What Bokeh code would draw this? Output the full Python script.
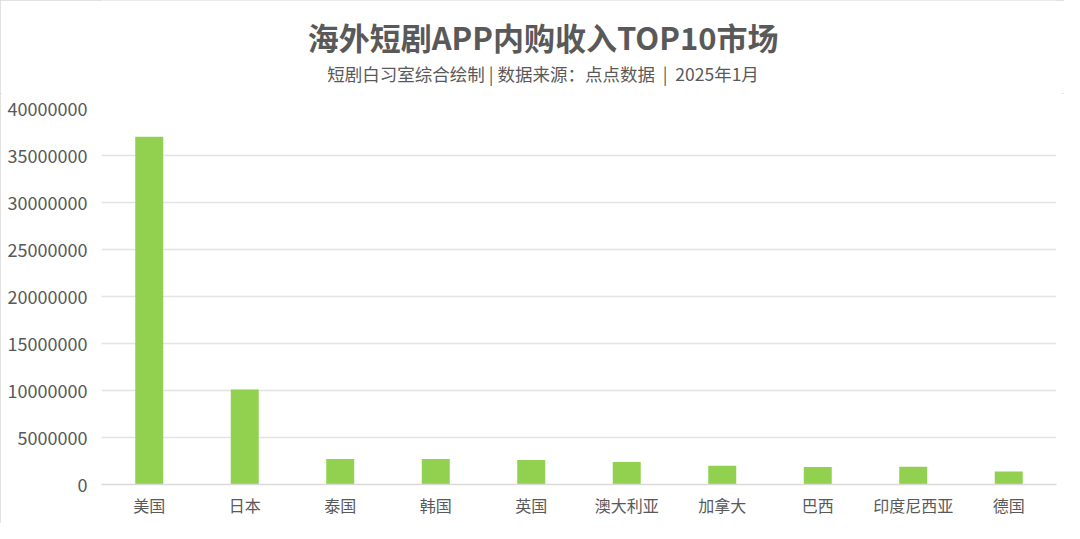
from bokeh.plotting import figure
from bokeh.models import ColumnDataSource, FixedTicker, BasicTickFormatter, Range1d
from bokeh.layouts import column
from bokeh.core.properties import value
from bokeh.embed import file_html
from bokeh.resources import INLINE

markets = ["美国", "日本", "泰国", "韩国", "英国", "澳大利亚", "加拿大", "巴西", "印度尼西亚", "德国"]
revenue = [37000000, 10100000, 2700000, 2700000, 2600000, 2400000, 2000000, 1870000, 1900000, 1370000]
y_ticks = [0, 5000000, 10000000, 15000000, 20000000, 25000000, 30000000, 35000000, 40000000]

title_text = "海外短剧APP内购收入TOP10市场"
subtitle_text = "短剧白习室综合绘制 | 数据来源：点点数据\u00a0\u00a0|\u00a0\u00a02025年1月"

FONT = "Noto Sans CJK SC"
TXT = "#595959"
W = 1064
HEAD_H = 93
HEAD_X = 492

# ---- heading figure (pixel-like coordinates, y downward) ----
head = figure(width=W, height=HEAD_H, x_range=Range1d(0, W), y_range=Range1d(HEAD_H, 0),
              output_backend="svg", toolbar_location=None,
              x_axis_location=None, y_axis_location=None,
              min_border_left=0, min_border_right=0, min_border_top=0, min_border_bottom=0)
head.grid.visible = False
head.outline_line_color = None
head.border_fill_color = "white"
head.background_fill_color = "white"
head.text(x=[HEAD_X], y=[36], text=[title_text], text_align="center", text_baseline="middle",
          text_font=value(FONT), text_font_size="31px", text_font_style="bold", text_color=TXT)
head.text(x=[HEAD_X], y=[73], text=[subtitle_text], text_align="center", text_baseline="middle",
          text_font=value(FONT), text_font_size="17.5px", text_color=TXT)

# ---- chart ----
src = ColumnDataSource(data=dict(market=markets, revenue=revenue))

p = figure(width=W, height=523 - HEAD_H, x_range=markets, y_range=Range1d(0, 40000000),
           output_backend="svg", toolbar_location=None,
           min_border_left=101, min_border_right=8, min_border_bottom=39,
           min_border_top=108 - HEAD_H)

p.vbar(x="market", top="revenue", width=0.293, source=src, color="#92D050", line_color=None)

p.outline_line_color = None
p.background_fill_color = "white"
p.border_fill_color = "white"

p.xgrid.grid_line_color = None
p.ygrid.grid_line_color = "#e3e3e3"
p.ygrid.grid_line_width = 1.3
p.ygrid.ticker = FixedTicker(ticks=y_ticks)

p.yaxis.ticker = FixedTicker(ticks=y_ticks)
p.yaxis.formatter = BasicTickFormatter(use_scientific=False)
p.yaxis.axis_line_color = None
p.yaxis.major_tick_line_color = None
p.yaxis.minor_tick_line_color = None
p.yaxis.major_label_text_font = FONT
p.yaxis.major_label_text_font_size = "18px"
p.yaxis.major_label_text_color = TXT
p.yaxis.major_label_standoff = 8

p.xaxis.axis_line_color = "#d9d9d9"
p.xaxis.axis_line_width = 1.5
p.xaxis.major_tick_line_color = None
p.xaxis.minor_tick_line_color = None
p.xaxis.major_label_text_font = FONT
p.xaxis.major_label_text_font_size = "16px"
p.xaxis.major_label_text_color = TXT
p.xaxis.major_label_standoff = 2
p.x_range.range_padding = 0

page = column(head, p, spacing=0)
page.styles = {"outline": "2px solid #d9d9d9", "outline-offset": "-2px"}

open("out.html", "w").write(file_html(page, INLINE))
